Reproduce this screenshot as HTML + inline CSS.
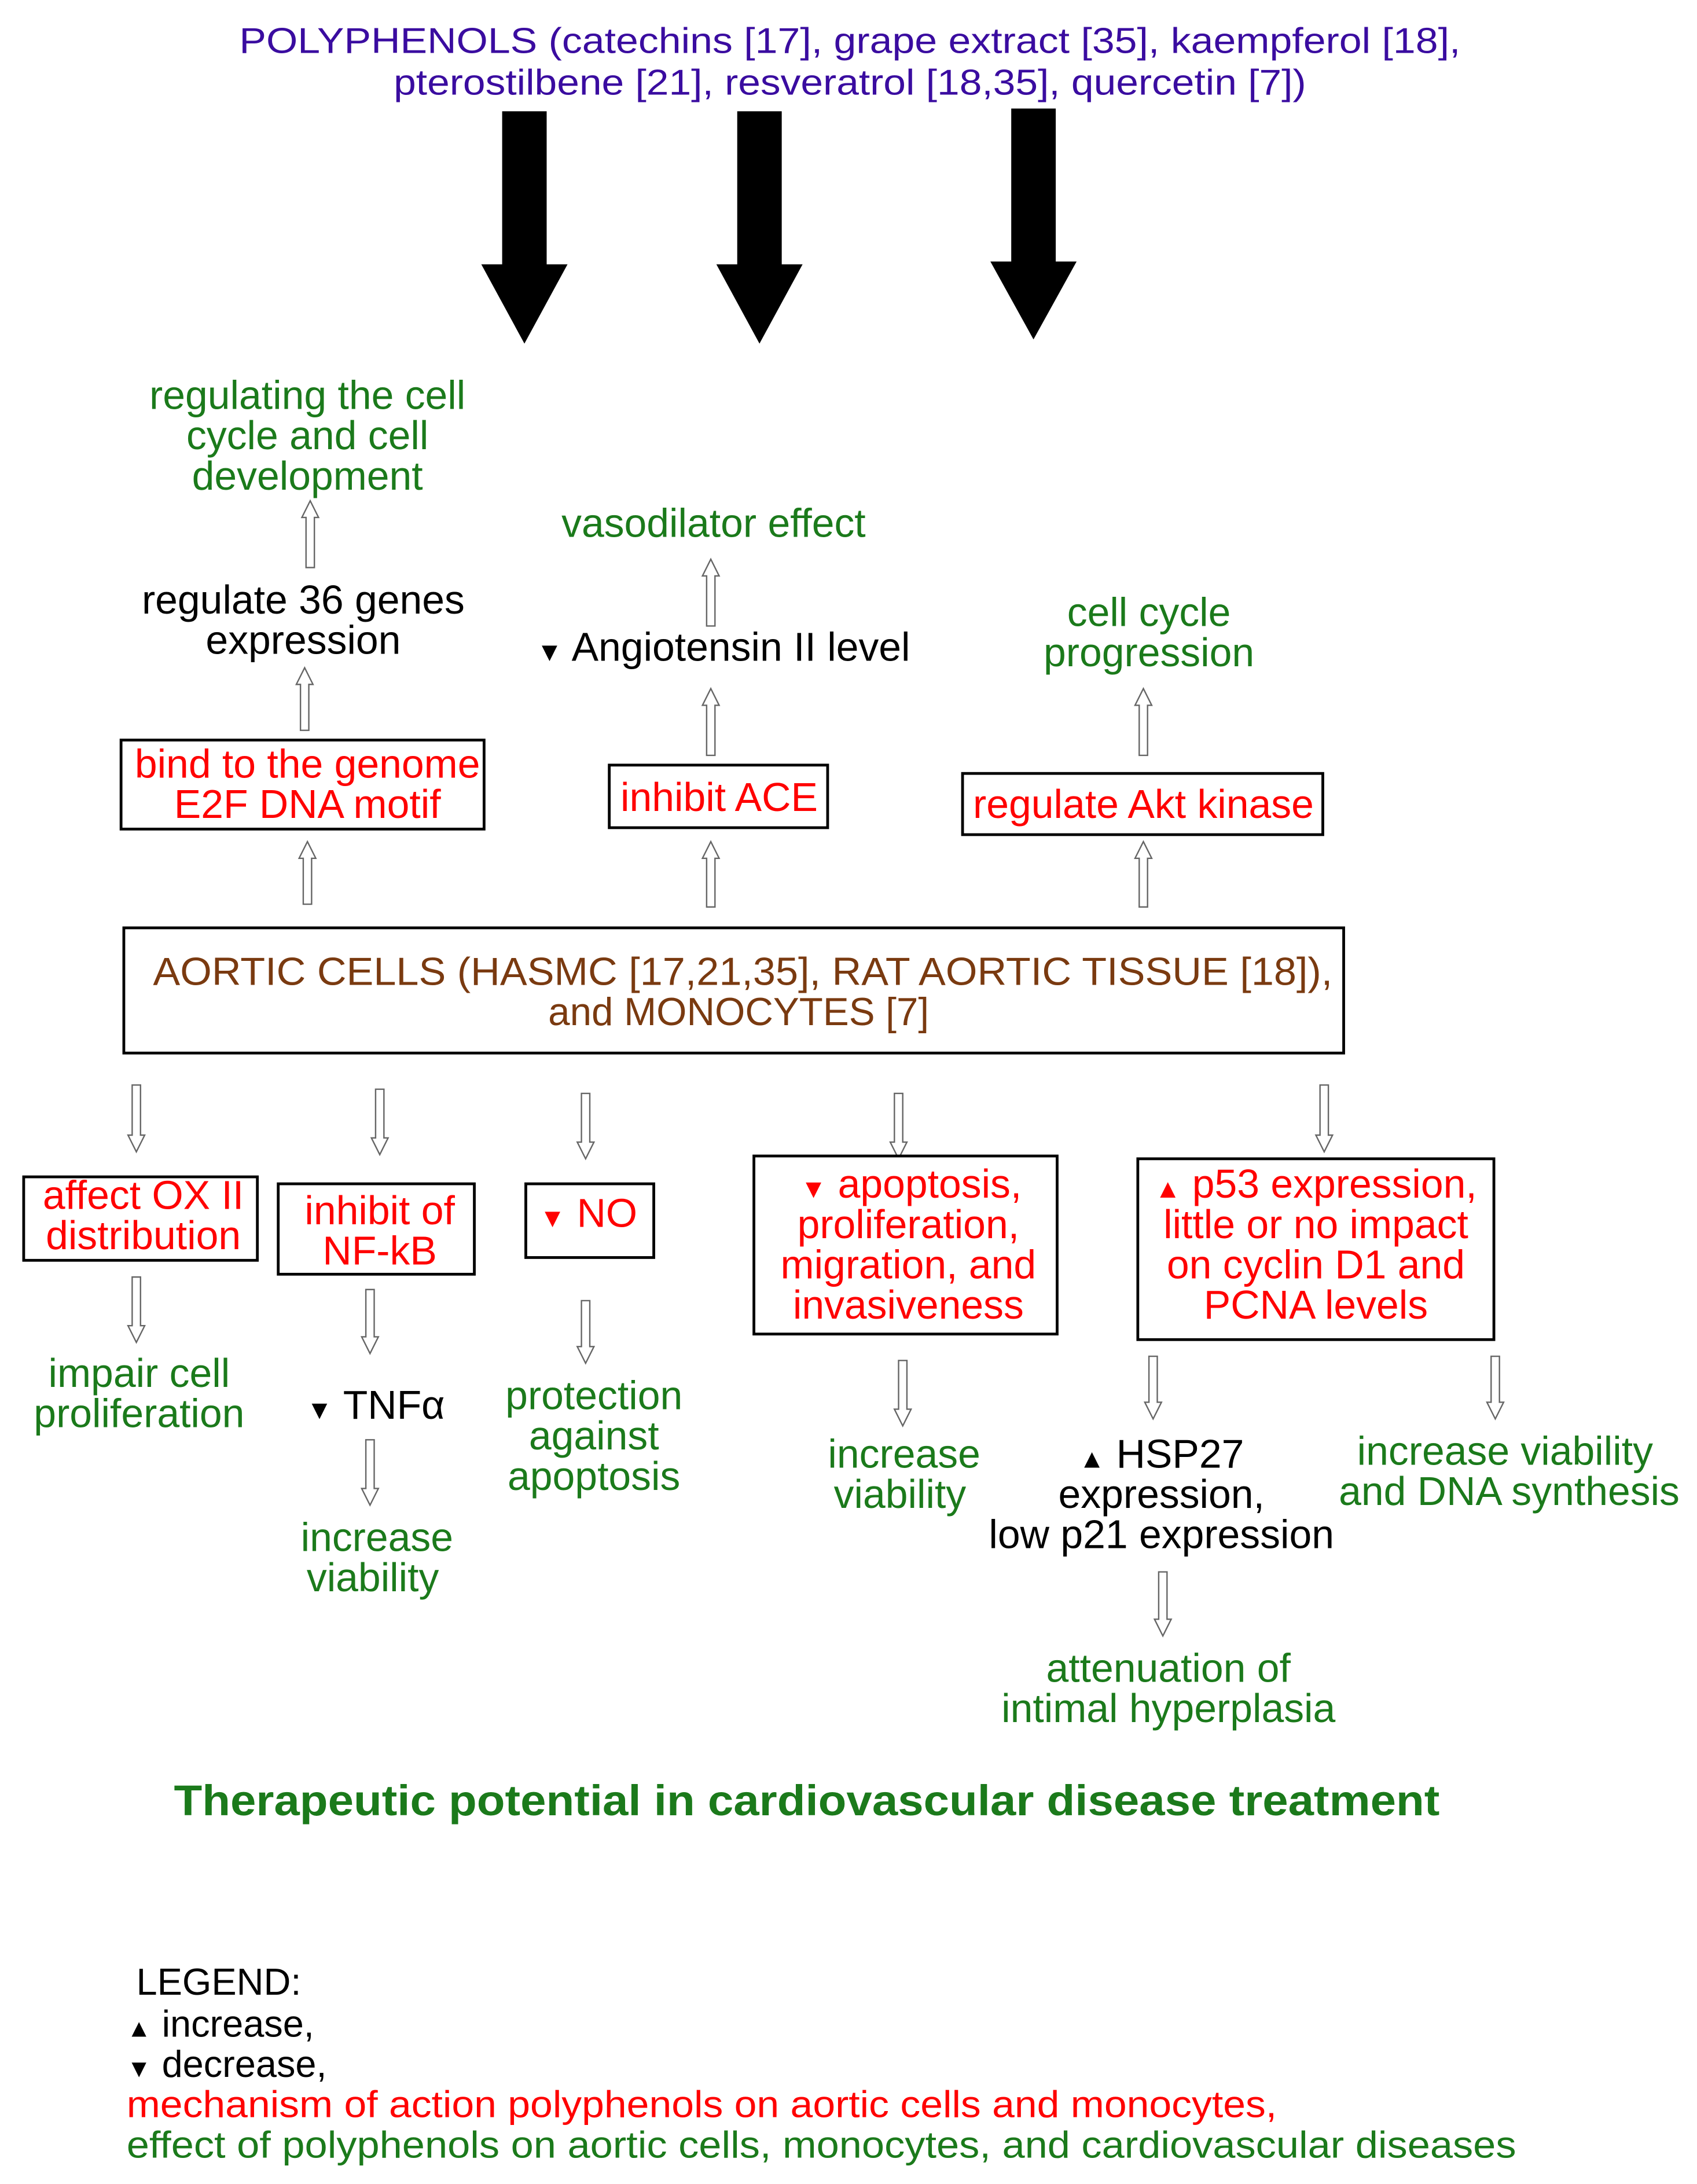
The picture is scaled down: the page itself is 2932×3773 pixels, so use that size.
<!DOCTYPE html>
<html><head><meta charset="utf-8"><style>html,body{margin:0;padding:0;background:#fff}svg{display:block}</style></head>
<body>
<svg xmlns="http://www.w3.org/2000/svg" width="2932" height="3773" viewBox="0 0 1220 1570" font-family="Liberation Sans, Arial, sans-serif">
<rect width="1220" height="1570" fill="#fff"/>
<g fill="#000">
<path d="M361,80 H393 V190 H408 L377,247 L346,190 H361 Z"/>
<path d="M530,80 H562 V190 H577 L546,247 L515,190 H530 Z"/>
<path d="M727,78 H759 V188 H774 L743,244 L712,188 H727 Z"/>
</g>
<g font-size="26" fill="#3a0ca0" text-anchor="middle">
<text x="611" y="38" textLength="878" lengthAdjust="spacingAndGlyphs">POLYPHENOLS (catechins [17], grape extract [35], kaempferol [18],</text>
<text x="611" y="68" textLength="656" lengthAdjust="spacingAndGlyphs">pterostilbene [21], resveratrol [18,35], quercetin [7])</text>
</g>
<g fill="#fff" stroke="#666" stroke-width="1">
<path d="M220,408 V372 H217 L223,360 L229,372 H226 V408 Z"/>
<path d="M216,525 V492 H213 L219,480 L225,492 H222 V525 Z"/>
<path d="M218,650 V617 H215 L221,605 L227,617 H224 V650 Z"/>
<path d="M508,450 V414 H505 L511,402 L517,414 H514 V450 Z"/>
<path d="M508,543 V507 H505 L511,495 L517,507 H514 V543 Z"/>
<path d="M508,652 V617 H505 L511,605 L517,617 H514 V652 Z"/>
<path d="M819,543 V507 H816 L822,495 L828,507 H825 V543 Z"/>
<path d="M819,652 V617 H816 L822,605 L828,617 H825 V652 Z"/>
<path d="M95,780 V816 H92 L98,828 L104,816 H101 V780 Z"/>
<path d="M270,783 V818 H267 L273,830 L279,818 H276 V783 Z"/>
<path d="M418,786 V821 H415 L421,833 L427,821 H424 V786 Z"/>
<path d="M643,786 V821 H640 L646,833 L652,821 H649 V786 Z"/>
<path d="M949,780 V816 H946 L952,828 L958,816 H955 V780 Z"/>
<path d="M95,918 V953 H92 L98,965 L104,953 H101 V918 Z"/>
<path d="M263,927 V961 H260 L266,973 L272,961 H269 V927 Z"/>
<path d="M418,935 V968 H415 L421,980 L427,968 H424 V935 Z"/>
<path d="M646,978 V1013 H643 L649,1025 L655,1013 H652 V978 Z"/>
<path d="M826,975 V1008 H823 L829,1020 L835,1008 H832 V975 Z"/>
<path d="M1072,975 V1008 H1069 L1075,1020 L1081,1008 H1078 V975 Z"/>
<path d="M263,1035 V1070 H260 L266,1082 L272,1070 H269 V1035 Z"/>
<path d="M833,1130 V1164 H830 L836,1176 L842,1164 H839 V1130 Z"/>
</g>
<g fill="#fff" stroke="#000" stroke-width="2">
<rect x="87" y="532" width="261" height="64"/>
<rect x="438" y="550" width="157" height="45"/>
<rect x="692" y="556" width="259" height="44"/>
<rect x="89" y="667" width="877" height="90"/>
<rect x="17" y="846" width="168" height="60"/>
<rect x="200" y="851" width="141" height="65"/>
<rect x="378" y="851" width="92" height="53"/>
<rect x="542" y="831" width="218" height="128"/>
<rect x="818" y="833" width="256" height="130"/>
</g>
<g font-size="29" text-anchor="middle">
<g fill="#1b7a1b">
<text x="221" y="294">regulating the cell</text>
<text x="221" y="323">cycle and cell</text>
<text x="221" y="352">development</text>
<text x="513" y="386">vasodilator effect</text>
<text x="826" y="450">cell cycle</text>
<text x="826" y="479">progression</text>
<text x="100" y="997">impair cell</text>
<text x="100" y="1026">proliferation</text>
<text x="427" y="1013">protection</text>
<text x="427" y="1042">against</text>
<text x="427" y="1071">apoptosis</text>
<text x="271" y="1115">increase</text>
<text x="268" y="1144">viability</text>
<text x="650" y="1055">increase</text>
<text x="647" y="1084">viability</text>
<text x="1082" y="1053">increase viability</text>
<text x="1085" y="1082">and DNA synthesis</text>
<text x="840" y="1209">attenuation of</text>
<text x="840" y="1238">intimal hyperplasia</text>
</g>
<g fill="#000">
<text x="218" y="441">regulate 36 genes</text>
<text x="218" y="470">expression</text>
<text x="520" y="475"><tspan font-size="19">▼</tspan> Angiotensin II level</text>
<text x="270" y="1020"><tspan font-size="19">▼</tspan> TNFα</text>
<text x="835" y="1055"><tspan font-size="19">▲</tspan> HSP27</text>
<text x="835" y="1084">expression,</text>
<text x="835" y="1113">low p21 expression</text>
</g>
<g fill="#f00">
<text x="221" y="559">bind to the genome</text>
<text x="221" y="588">E2F DNA motif</text>
<text x="517" y="583">inhibit ACE</text>
<text x="822" y="588">regulate Akt kinase</text>
<text x="103" y="869">affect OX II</text>
<text x="103" y="898">distribution</text>
<text x="273" y="880">inhibit of</text>
<text x="273" y="909">NF-kB</text>
<text x="423" y="882"><tspan font-size="19">▼</tspan> NO</text>
<text x="655" y="861"><tspan font-size="19">▼</tspan> apoptosis,</text>
<text x="653" y="890">proliferation,</text>
<text x="653" y="919">migration, and</text>
<text x="653" y="948">invasiveness</text>
<text x="946" y="861"><tspan font-size="19">▲</tspan> p53 expression,</text>
<text x="946" y="890">little or no impact</text>
<text x="946" y="919">on cyclin D1 and</text>
<text x="946" y="948">PCNA levels</text>
</g>
<g fill="#7a3a10" font-size="28">
<text x="534" y="708" textLength="848" lengthAdjust="spacingAndGlyphs">AORTIC CELLS (HASMC [17,21,35], RAT AORTIC TISSUE [18]),</text>
<text x="531" y="737">and MONOCYTES [7]</text>
</g>
<text x="580" y="1305" font-size="31" font-weight="bold" fill="#1b7a1b" textLength="910" lengthAdjust="spacingAndGlyphs">Therapeutic potential in cardiovascular disease treatment</text>
</g>
<g font-size="27">
<text x="98" y="1434" fill="#000">LEGEND:</text>
<text x="91" y="1464" fill="#000"><tspan font-size="18">▲</tspan> increase,</text>
<text x="91" y="1493" fill="#000"><tspan font-size="18">▼</tspan> decrease,</text>
<text x="91" y="1522" fill="#f00" textLength="827" lengthAdjust="spacingAndGlyphs">mechanism of action polyphenols on aortic cells and monocytes,</text>
<text x="91" y="1551" fill="#1b7a1b" textLength="999" lengthAdjust="spacingAndGlyphs">effect of polyphenols on aortic cells, monocytes,  and cardiovascular diseases</text>
</g>
</svg>
</body></html>
